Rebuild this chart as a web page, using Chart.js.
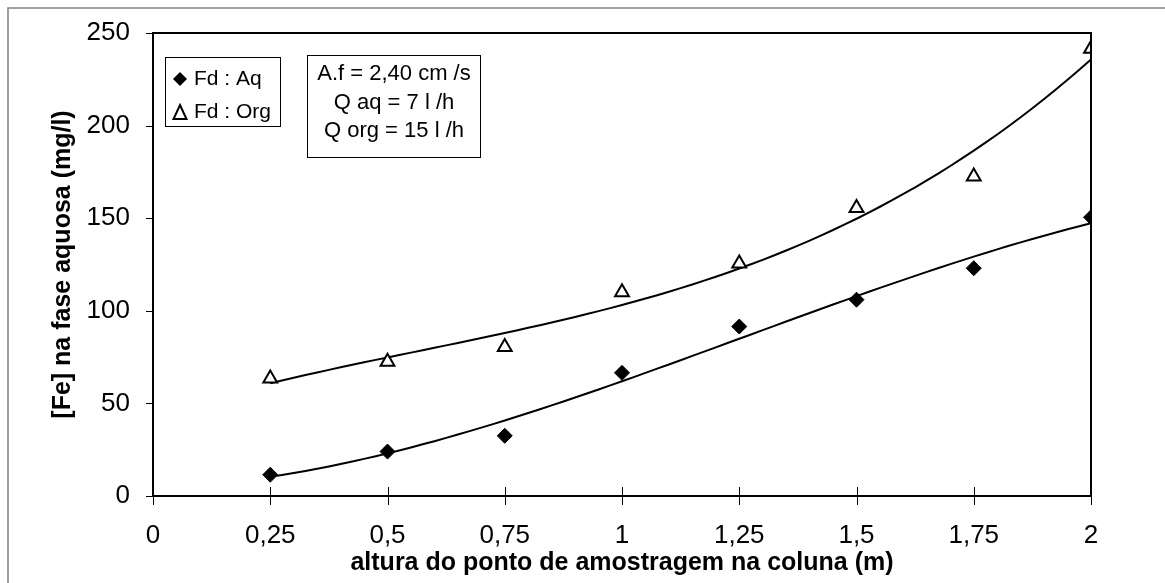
<!DOCTYPE html>
<html><head><meta charset="utf-8">
<script src="https://cdn.jsdelivr.net/npm/chart.js@4"></script>
<style>html,body{margin:0;padding:0;background:#fff}#wrap{width:1165px;height:583px;position:relative}</style>
</head><body><div id="wrap"><canvas id="c" width="1165" height="583"></canvas></div>
<script>
const heights = [0.25, 0.5, 0.75, 1, 1.25, 1.5, 1.75, 2];
const feAq = [11.5, 24, 32.5, 66.5, 91.5, 106, 123, 150.5];
const feOrg = [63.5, 72.5, 80.5, 110, 125.5, 155.5, 172.5, 241.5];
const xTicks = [0, 0.25, 0.5, 0.75, 1, 1.25, 1.5, 1.75, 2];
const yTicks = [0, 50, 100, 150, 200, 250];
const legendLabels = ['Fd : Aq', 'Fd : Org'];
const infoLines = ['A.f = 2,40 cm /s', 'Q aq = 7 l /h', 'Q org = 15 l /h'];

function polyFit(xs, ys, deg) {
  const n = deg + 1, A = [], b = [];
  for (let i = 0; i < n; i++) { A.push(new Array(n).fill(0)); b.push(0); }
  xs.forEach((x, k) => {
    for (let i = 0; i < n; i++) {
      b[i] += ys[k] * Math.pow(x, i);
      for (let j = 0; j < n; j++) A[i][j] += Math.pow(x, i + j);
    }
  });
  for (let i = 0; i < n; i++) {
    let p = i; for (let r = i + 1; r < n; r++) if (Math.abs(A[r][i]) > Math.abs(A[p][i])) p = r;
    [A[i], A[p]] = [A[p], A[i]]; [b[i], b[p]] = [b[p], b[i]];
    for (let r = i + 1; r < n; r++) { const f = A[r][i] / A[i][i]; for (let c = i; c < n; c++) A[r][c] -= f * A[i][c]; b[r] -= f * b[i]; }
  }
  const c = new Array(n).fill(0);
  for (let i = n - 1; i >= 0; i--) { let s = b[i]; for (let j = i + 1; j < n; j++) s -= A[i][j] * c[j]; c[i] = s / A[i][i]; }
  return x => c.reduce((s, ci, i) => s + ci * Math.pow(x, i), 0);
}
const aqFit = polyFit(heights, feAq, 3);
const orgFit = polyFit(heights, feOrg, 3);
const curveX = [];
for (let x = heights[0]; x <= heights[heights.length - 1] + 1e-9; x += 0.025) curveX.push(x);
const FONT = '"Liberation Sans", Arial, sans-serif';

const decor = {
  id: 'decor',
  beforeDraw(chart) {
    const ctx = chart.ctx;
    ctx.save();
    ctx.strokeStyle = '#808080'; ctx.lineWidth = 1.5;
    ctx.beginPath(); ctx.moveTo(8, 583); ctx.lineTo(8, 8); ctx.lineTo(1165, 8); ctx.stroke();
    ctx.restore();
  },
  afterDraw(chart) {
    const ctx = chart.ctx, a = chart.chartArea;
    ctx.save();
    ctx.strokeStyle = '#000'; ctx.lineWidth = 2;
    ctx.strokeRect(a.left, a.top, a.right - a.left, a.bottom - a.top);
    const xs = chart.scales.x;
    ctx.lineWidth = 1;
    xTicks.forEach(v => { const px = Math.round(xs.getPixelForValue(v)) + 0.5; ctx.beginPath(); ctx.moveTo(px, a.bottom - 9); ctx.lineTo(px, a.bottom + 9); ctx.stroke(); });
    const ys = chart.scales.y;
    yTicks.forEach(v => { const py = Math.round(ys.getPixelForValue(v)) + 0.5; ctx.beginPath(); ctx.moveTo(a.left - 7, py); ctx.lineTo(a.left, py); ctx.stroke(); });
    // legend box
    ctx.lineWidth = 1; ctx.strokeStyle = '#000';
    ctx.strokeRect(165.5, 57.5, 115, 69);
    ctx.font = '21px ' + FONT; ctx.fillStyle = '#000'; ctx.textBaseline = 'middle'; ctx.textAlign = 'left';
    ctx.beginPath(); ctx.moveTo(180, 72); ctx.lineTo(187, 79); ctx.lineTo(180, 86); ctx.lineTo(173, 79); ctx.closePath(); ctx.fill();
    ctx.fillText(legendLabels[0], 194, 79);
    ctx.lineWidth = 2;
    ctx.beginPath(); ctx.moveTo(180, 105); ctx.lineTo(186.5, 119); ctx.lineTo(173.5, 119); ctx.closePath(); ctx.stroke();
    ctx.fillText(legendLabels[1], 194, 112);
    // info box
    ctx.lineWidth = 1;
    ctx.strokeRect(307.5, 55.5, 173, 102);
    ctx.textAlign = 'center'; ctx.font = '22px ' + FONT;
    infoLines.forEach((t, i) => ctx.fillText(t, 394, 74 + i * 28.5));
    ctx.restore();
  }
};

new Chart(document.getElementById('c'), {
  type: 'scatter',
  data: {
    datasets: [
      { label: legendLabels[0], data: heights.map((x, i) => ({ x, y: feAq[i] })), pointStyle: 'rectRot', pointRadius: 7.5, backgroundColor: '#000', borderColor: '#000', borderWidth: 1, order: 1 },
      { label: legendLabels[1], data: heights.map((x, i) => ({ x, y: feOrg[i] })), pointStyle: 'triangle', pointRadius: 8, backgroundColor: '#fff', borderColor: '#000', borderWidth: 2, order: 0 },
      { label: 'trendAq', type: 'line', data: curveX.map(x => ({ x, y: aqFit(x) })), borderColor: '#000', borderWidth: 2, pointRadius: 0, fill: false, order: 2 },
      { label: 'trendOrg', type: 'line', data: curveX.map(x => ({ x, y: orgFit(x) })), borderColor: '#000', borderWidth: 2, pointRadius: 0, fill: false, order: 2 }
    ]
  },
  options: {
    responsive: false, animation: false,
    layout: { padding: { left: 0, top: 33, right: 74, bottom: 0 } },
    plugins: { legend: { display: false }, tooltip: { enabled: false } },
    scales: {
      x: {
        type: 'linear', min: 0, max: 2,
        afterBuildTicks: s => { s.ticks = xTicks.map(v => ({ value: v })); },
        afterFit: s => { s.height = 87; },
        grid: { display: false, drawTicks: false },
        border: { display: false },
        ticks: { color: '#000', font: { family: FONT, size: 26 }, padding: 24, callback: v => String(v).replace('.', ','), maxRotation: 0 },
        title: { display: true, text: 'altura do ponto de amostragem na coluna (m)', color: '#000', font: { family: FONT, size: 25, weight: 'bold' }, padding: { top: 0, bottom: 5 } }
      },
      y: {
        min: 0, max: 250,
        afterBuildTicks: s => { s.ticks = yTicks.map(v => ({ value: v })); },
        afterFit: s => { s.width = 153; },
        grid: { display: true, drawOnChartArea: false, drawTicks: true, tickLength: 23, color: 'rgba(0,0,0,0)' },
        border: { display: false },
        ticks: { color: '#000', font: { family: FONT, size: 26 }, padding: 0 },
        title: { display: true, text: '[Fe] na fase aquosa (mg/l)', color: '#000', font: { family: FONT, size: 25, weight: 'bold' }, padding: { top: 48, bottom: 0 } }
      }
    }
  },
  plugins: [decor]
});
</script></body></html>
